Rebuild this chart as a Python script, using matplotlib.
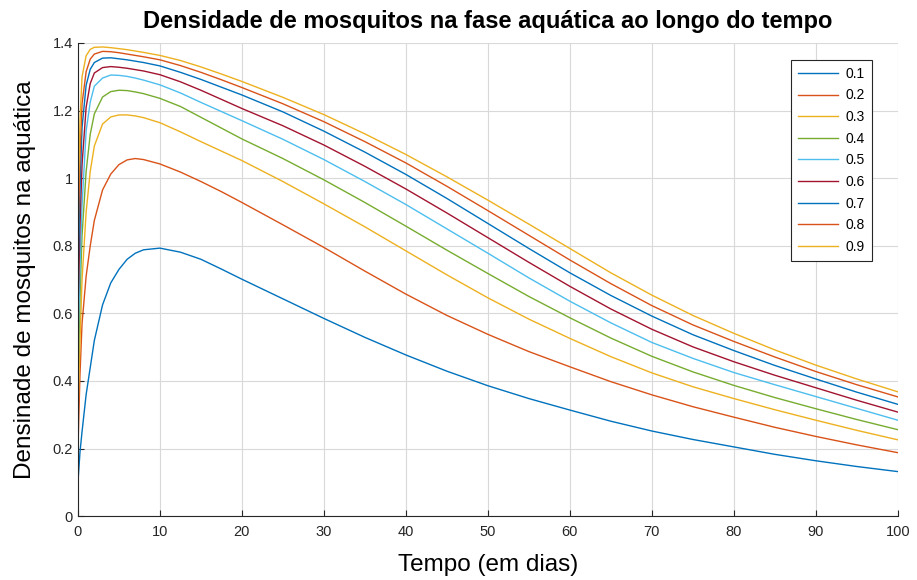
import matplotlib
matplotlib.use('Agg')
import matplotlib.pyplot as plt
from matplotlib.ticker import FuncFormatter

plt.rcParams['font.family'] = ['Liberation Sans', 'DejaVu Sans']

# tempo (dias) onde as curvas foram lidas
tempo = [0, 0.25, 0.5, 1, 1.5, 2, 3, 4, 5, 6, 7, 8, 10, 12.5, 15, 17.5, 20, 25, 30,
         35, 40, 45, 50, 55, 60, 65, 70, 75, 80, 85, 90, 95, 100]

rotulos = ['0.1', '0.2', '0.3', '0.4', '0.5', '0.6', '0.7', '0.8', '0.9']

d01 = [0.10, 0.19, 0.25, 0.36, 0.44, 0.52, 0.625, 0.69, 0.73, 0.76, 0.778, 0.788, 0.793,
       0.781, 0.760, 0.731, 0.701, 0.643, 0.585, 0.529, 0.477, 0.429, 0.386, 0.348, 0.314,
       0.281, 0.252, 0.227, 0.205, 0.183, 0.164, 0.147, 0.132]
d02 = [0.20, 0.42, 0.57, 0.71, 0.80, 0.875, 0.965, 1.012, 1.040, 1.054, 1.058, 1.055, 1.042,
       1.018, 0.990, 0.960, 0.928, 0.862, 0.795, 0.725, 0.657, 0.594, 0.538, 0.487, 0.442,
       0.398, 0.359, 0.324, 0.293, 0.263, 0.236, 0.211, 0.188]
d03 = [0.30, 0.52, 0.70, 0.90, 1.02, 1.095, 1.160, 1.181, 1.187, 1.187, 1.184, 1.179, 1.164,
       1.137, 1.108, 1.080, 1.052, 0.990, 0.924, 0.856, 0.785, 0.714, 0.646, 0.583, 0.526,
       0.472, 0.424, 0.383, 0.348, 0.315, 0.284, 0.254, 0.226]
d04 = [0.40, 0.65, 0.83, 1.02, 1.13, 1.19, 1.240, 1.256, 1.260, 1.259, 1.255, 1.250, 1.236,
       1.212, 1.180, 1.148, 1.116, 1.058, 0.995, 0.928, 0.858, 0.787, 0.718, 0.650, 0.587,
       0.527, 0.473, 0.427, 0.387, 0.351, 0.318, 0.286, 0.256]
d05 = [0.50, 0.74, 0.92, 1.14, 1.225, 1.272, 1.296, 1.305, 1.304, 1.301, 1.296, 1.290, 1.276,
       1.252, 1.224, 1.197, 1.170, 1.115, 1.055, 0.990, 0.922, 0.850, 0.778, 0.705, 0.636,
       0.572, 0.514, 0.467, 0.425, 0.389, 0.354, 0.319, 0.284]
d06 = [0.60, 0.86, 1.04, 1.21, 1.28, 1.311, 1.327, 1.330, 1.328, 1.325, 1.321, 1.317, 1.306,
       1.285, 1.260, 1.233, 1.206, 1.155, 1.098, 1.035, 0.968, 0.897, 0.824, 0.751, 0.680,
       0.613, 0.553, 0.501, 0.457, 0.417, 0.380, 0.343, 0.308]
d07 = [0.70, 0.97, 1.15, 1.275, 1.322, 1.342, 1.355, 1.356, 1.353, 1.350, 1.346, 1.342, 1.332,
       1.313, 1.292, 1.269, 1.246, 1.196, 1.139, 1.077, 1.011, 0.940, 0.866, 0.792, 0.720,
       0.653, 0.592, 0.537, 0.490, 0.446, 0.406, 0.367, 0.331]
d08 = [0.80, 1.07, 1.22, 1.315, 1.352, 1.367, 1.375, 1.374, 1.371, 1.367, 1.363, 1.359, 1.350,
       1.333, 1.313, 1.291, 1.268, 1.220, 1.167, 1.108, 1.045, 0.976, 0.904, 0.831, 0.758,
       0.688, 0.623, 0.566, 0.517, 0.471, 0.428, 0.389, 0.353]
d09 = [0.90, 1.17, 1.30, 1.362, 1.381, 1.387, 1.388, 1.386, 1.383, 1.380, 1.376, 1.372, 1.363,
       1.348, 1.329, 1.308, 1.286, 1.239, 1.188, 1.131, 1.070, 1.004, 0.935, 0.864, 0.792,
       0.720, 0.654, 0.594, 0.541, 0.492, 0.447, 0.406, 0.368]

curvas = [d01, d02, d03, d04, d05, d06, d07, d08, d09]
cores = ['#0072BD', '#D95319', '#EDB120', '#77AC30', '#4DBEEE', '#A2142F',
         '#0072BD', '#D95319', '#EDB120']

fig = plt.figure(figsize=(9.17, 5.8), dpi=100)
ax = fig.add_axes([0.085, 0.110, 0.894, 0.816])

for y, cor, rot in zip(curvas, cores, rotulos):
    ax.plot(tempo, y, color=cor, linewidth=1.0, label=rot)

ax.set_xlim(0, 100)
ax.set_ylim(0, 1.4)
ax.set_xticks(range(0, 101, 10))
ax.set_yticks([0, 0.2, 0.4, 0.6, 0.8, 1.0, 1.2, 1.4])
ax.yaxis.set_major_formatter(FuncFormatter(lambda v, p: ('%g' % round(v, 1))))
ax.grid(True, color='#d9d9d9', linewidth=0.8)
ax.set_axisbelow(True)

ax.spines['top'].set_visible(False)
ax.spines['right'].set_visible(False)
ax.spines['left'].set_color('#262626')
ax.spines['bottom'].set_color('#262626')
ax.tick_params(direction='in', length=4, labelsize=10.5, colors='#262626')
ax.tick_params(axis='x', pad=6)

ax.set_title('Densidade de mosquitos na fase aquática ao longo do tempo',
             fontsize=17, fontweight='bold', pad=11)
ax.set_xlabel('Tempo (em dias)', fontsize=17.5, labelpad=11)
ax.set_ylabel('Densinade de mosquitos na aquática', fontsize=17.5, labelpad=12)

leg = ax.legend(loc='upper right', bbox_to_anchor=(0.9765, 0.979), fontsize=10,
                frameon=True, fancybox=False, framealpha=1, edgecolor='#262626',
                handlelength=2.9, labelspacing=0.55, borderpad=0.5, handletextpad=0.5)
leg.get_frame().set_linewidth(0.8)

fig.savefig('out.png', dpi=100)
